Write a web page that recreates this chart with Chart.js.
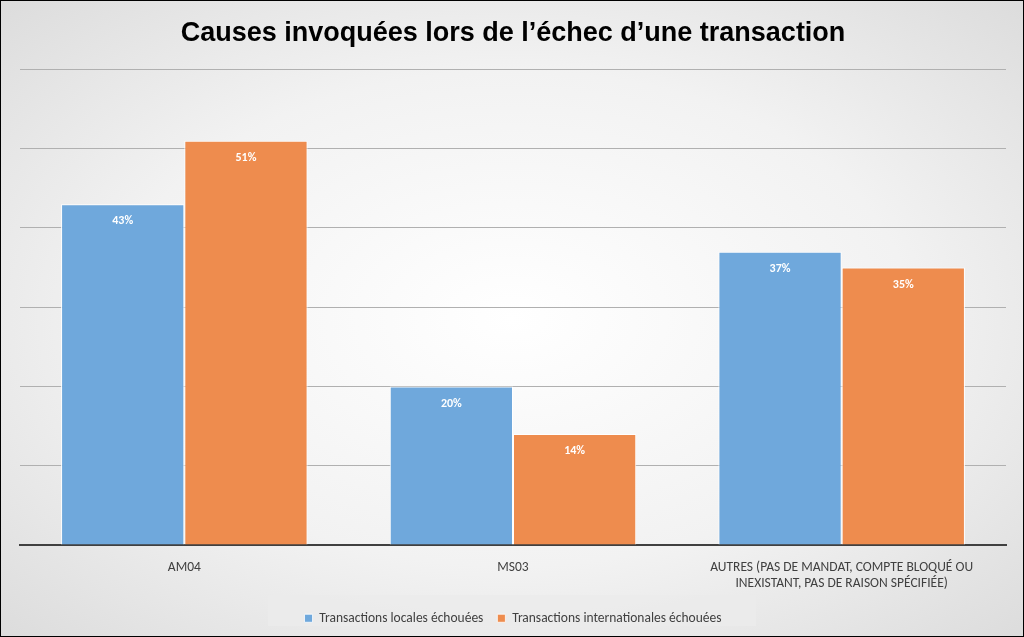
<!DOCTYPE html>
<html><head><meta charset="utf-8">
<script src="https://cdn.jsdelivr.net/npm/chart.js@4"></script>
<style>
html,body{margin:0;padding:0;}
body{width:1024px;height:637px;box-sizing:border-box;border:1.5px solid #000;background:radial-gradient(ellipse at center,#ffffff 0%,#f2f2f2 55%,#dcdcdc 100%);}
#w{position:absolute;left:0;top:0;width:1024px;height:637px;}
</style></head><body>
<div id="w"><canvas id="c"></canvas></div>
<script>
const categories=["AM04","MS03",["AUTRES (PAS DE MANDAT, COMPTE BLOQUÉ OU","INEXISTANT, PAS DE RAISON SPÉCIFIÉE)"]];
const seriesNames=["Transactions locales échouées","Transactions internationales échouées"];
const locales=[43,20,37];
const internationales=[51,14,35];
const labelsPlugin={id:'lbl',afterDatasetsDraw(ch){const ctx=ch.ctx;ctx.save();ctx.font='bold 12px Calibri, Carlito, "Liberation Sans", sans-serif';ctx.fillStyle='#fff';ctx.textAlign='center';ctx.textBaseline='top';
ch.data.datasets.forEach((d,i)=>{ch.getDatasetMeta(i).data.forEach((b,j)=>{ctx.fillText(d.data[j]+'%',b.x,b.y+11);});});ctx.restore();}};
const legendBox={id:'lb',beforeDraw(ch){const ctx=ch.ctx;ctx.save();ctx.fillStyle='rgba(235,235,235,0.9)';ctx.fillRect(268,595,488,31);ctx.restore();}};
new Chart(document.getElementById('c'),{type:'bar',
data:{labels:categories,datasets:[
{label:seriesNames[0],data:locales,backgroundColor:'#6fa8dc',borderColor:'#fff',borderWidth:{left:1,right:1,top:1}},
{label:seriesNames[1],data:internationales,backgroundColor:'#ee8c4e',borderColor:'#fff',borderWidth:{left:1,right:1,top:1}}]},
options:{responsive:true,maintainAspectRatio:false,animation:false,devicePixelRatio:1,
layout:{padding:{left:20,right:18,top:3,bottom:2}},
categoryPercentage:0.75,barPercentage:1,
plugins:{title:{display:true,text:'Causes invoquées lors de l’échec d’une transaction',color:'#000',font:{size:27,weight:'bold',family:'"Liberation Sans", Arial, sans-serif'},padding:{top:14,bottom:20}},
legend:{position:'bottom',labels:{boxWidth:8,boxHeight:8,color:'#404040',font:{size:13.5,family:'Calibri, Carlito, "Open Sans", sans-serif'},padding:14}},tooltip:{enabled:false}},
scales:{x:{grid:{display:false},border:{color:'#404040',width:2},ticks:{color:'#404040',font:{size:13.5,family:'Calibri, Carlito, "Open Sans", sans-serif'},maxRotation:0,padding:6}},
y:{min:0,max:60,ticks:{stepSize:10,display:false},grid:{color:'#b0b0b0',drawTicks:false},border:{display:false}}}},
plugins:[legendBox,labelsPlugin]});
</script></body></html>
